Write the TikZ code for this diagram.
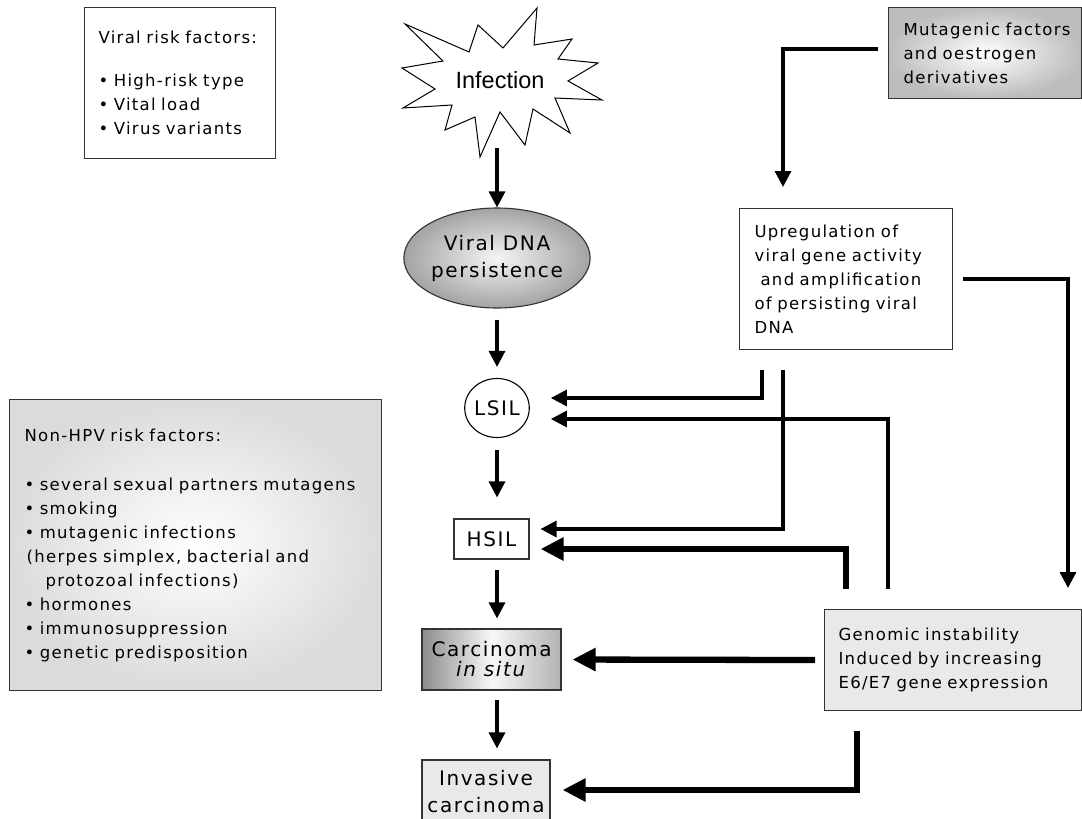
\documentclass[tikz,border=0pt]{standalone}
\usepackage{fontspec}
\setmainfont[LetterSpace=8]{DejaVu Sans}
\newfontfamily\arialf{Liberation Sans}
\usetikzlibrary{arrows.meta,shapes.geometric}
\definecolor{boxgray}{HTML}{E9E9E9}
\hyphenpenalty=10000
\exhyphenpenalty=10000
\begin{document}
\begin{tikzpicture}[x=1pt,y=-1pt,
  txt/.style={font=\fontsize{16.5}{24}\selectfont},
  big/.style={font=\fontsize{20}{27}\selectfont},
  frame/.style={draw=black!80, line width=1.1pt},
  arrA/.style={line width=3.2pt, -{Triangle[length=16pt,width=16pt]}},
  arrB/.style={line width=6.3pt, -{Triangle[length=23pt,width=22pt]}},
]
\useasboundingbox (0,0) rectangle (1082,819);

% columns and rows used by the connectors
\coordinate (cA) at (762,0);
\coordinate (cB) at (783,0);
\coordinate (cC) at (846,0);
\coordinate (cD) at (857,0);
\coordinate (cE) at (888,0);
\coordinate (cF) at (1068,0);
\coordinate (rowM) at (0,49);
\coordinate (rowA) at (0,398);
\coordinate (rowB) at (0,419);
\coordinate (rowC) at (0,529);
\coordinate (rowD) at (0,549);
\coordinate (rowE) at (0,790);

% viral risk factors
\node[frame, txt, anchor=north west, minimum height=151pt, text width=163pt,
  inner xsep=14pt, inner ysep=0pt, align=left] (viral) at (84,7)
  {Viral risk factors:\\[19.5pt]• High-risk type\\• Vital load\\• Virus variants};

% starburst
\draw[line width=1pt, fill=white] (403,108) -- (435,89) -- (402,68) -- (443,61) -- (405,24)
  -- (469,52) -- (478,25) -- (503,48) -- (537,8) -- (534,45) -- (572,39) -- (558,59)
  -- (598,63) -- (568,81) -- (602,100) -- (555,98) -- (570,133) -- (533,109) -- (525,145)
  -- (500,112) -- (480,157) -- (475,117) -- (445,130) -- (452,105) -- cycle;
\node[font={\arialf\fontsize{23.5}{28}\selectfont}] (inf) at (500,80) {Infection};
\coordinate (infout) at (497,148);

% mutagenic factors
\node[frame, txt, anchor=north west, minimum height=91pt, text width=163pt,
  inner xsep=15pt, inner ysep=0pt, align=left, inner color=white, outer color=black!26] (mut) at (888,7)
  {\mbox{Mutagenic factors}\\and oestrogen\\derivatives};

% upregulation
\node[frame, txt, anchor=north west, minimum height=141pt, text width=183pt,
  inner xsep=15pt, inner ysep=0pt, align=left] (up) at (739,208)
  {Upregulation of\\viral gene activity\\\hspace*{6pt}and amplification\\of persisting viral\\DNA};

% non-HPV
\node[frame, txt, anchor=north west, minimum height=291pt, text width=342pt,
  inner xsep=15pt, inner ysep=0pt, align=left, inner color=white, outer color=black!14] (nonhpv) at (9,399)
  {Non-HPV risk factors:\\[25pt]\mbox{• several sexual partners mutagens}\\• smoking\\• mutagenic infections\\
   \hspace*{2pt}(herpes simplex, bacterial and\\\hspace*{21pt}protozoal infections)\\• hormones\\
   • immunosuppression\\• genetic predisposition};

% genomic instability
\node[frame, fill=boxgray, txt, anchor=north west, minimum height=101pt, text width=229pt,
  inner xsep=14pt, inner ysep=0pt, align=left] (gen) at (824,609)
  {\mbox{Genomic instability}\\\mbox{Induced by increasing}\\\mbox{E6/E7 gene expression}};

% main column
\node[ellipse, draw=black!80, line width=1.1pt, minimum width=170pt, minimum height=100pt,
  inner sep=0pt, big, align=center, inner color=black!4, outer color=black!36] (dna) at (497,258)
  {Viral DNA\\persistence};
\node[ellipse, draw=black, line width=1.1pt, minimum width=64pt, minimum height=59pt,
  inner sep=0pt, big] (lsil) at (497,408) {LSIL};
\node[frame, big, minimum width=75pt, minimum height=40pt, inner sep=0pt] (hsil) at (491.5,539) {HSIL};
\node[frame, minimum width=139pt, minimum height=61pt, inner sep=0pt, align=center,
  font=\fontsize{20}{20}\selectfont, left color=black!45, right color=black!30, middle color=black!3]
  (cis) at (491.5,659.5) {Carcinoma\\\textit{in situ}};
\node[frame, fill=boxgray, minimum width=128pt, minimum height=63pt, inner sep=0pt, big, align=center]
  (inv) at (486,791.5) {Invasive\\carcinoma};

% main column arrows
\draw[arrA] (infout) -- (dna.north);
\draw[arrA, shorten <=11pt, shorten >=11pt] (dna.south) -- (lsil.north);
\draw[arrA, shorten <=11.5pt, shorten >=21pt] (lsil.south) -- (lsil.south |- hsil.north);
\draw[arrA, shorten <=10pt, shorten >=10pt] (lsil.south |- hsil.south) -- (lsil.south |- cis.north);
\draw[arrA, shorten <=9pt, shorten >=11pt] (lsil.south |- cis.south) -- (lsil.south |- inv.north);

% right side connectors
\draw[arrA, shorten <=10pt, shorten >=21pt] (mut.west |- rowM) -| (up.north -| cB);
\draw[arrA, shorten <=20pt, shorten >=21pt] (up.south -| cA) |- (lsil.east |- rowA);
\draw[arrA, shorten <=20pt, shorten >=11pt] (up.south -| cB) |- (hsil.east |- rowC);
\draw[arrA, shorten <=10pt, shorten >=21pt] (up.east) -| (gen.north -| cF);
\draw[arrA, shorten <=20pt, shorten >=21pt] (gen.north -| cE) |- (lsil.east |- rowB);
\draw[arrB, shorten <=20pt, shorten >=11pt] (gen.north -| cC) |- (hsil.east |- rowD);
\draw[arrB, shorten <=9pt, shorten >=11pt] (gen.west) -- (cis.east);
\draw[arrB, shorten <=20pt, shorten >=12pt] (gen.south -| cD) |- (inv.east |- rowE);
\end{tikzpicture}
\end{document}
